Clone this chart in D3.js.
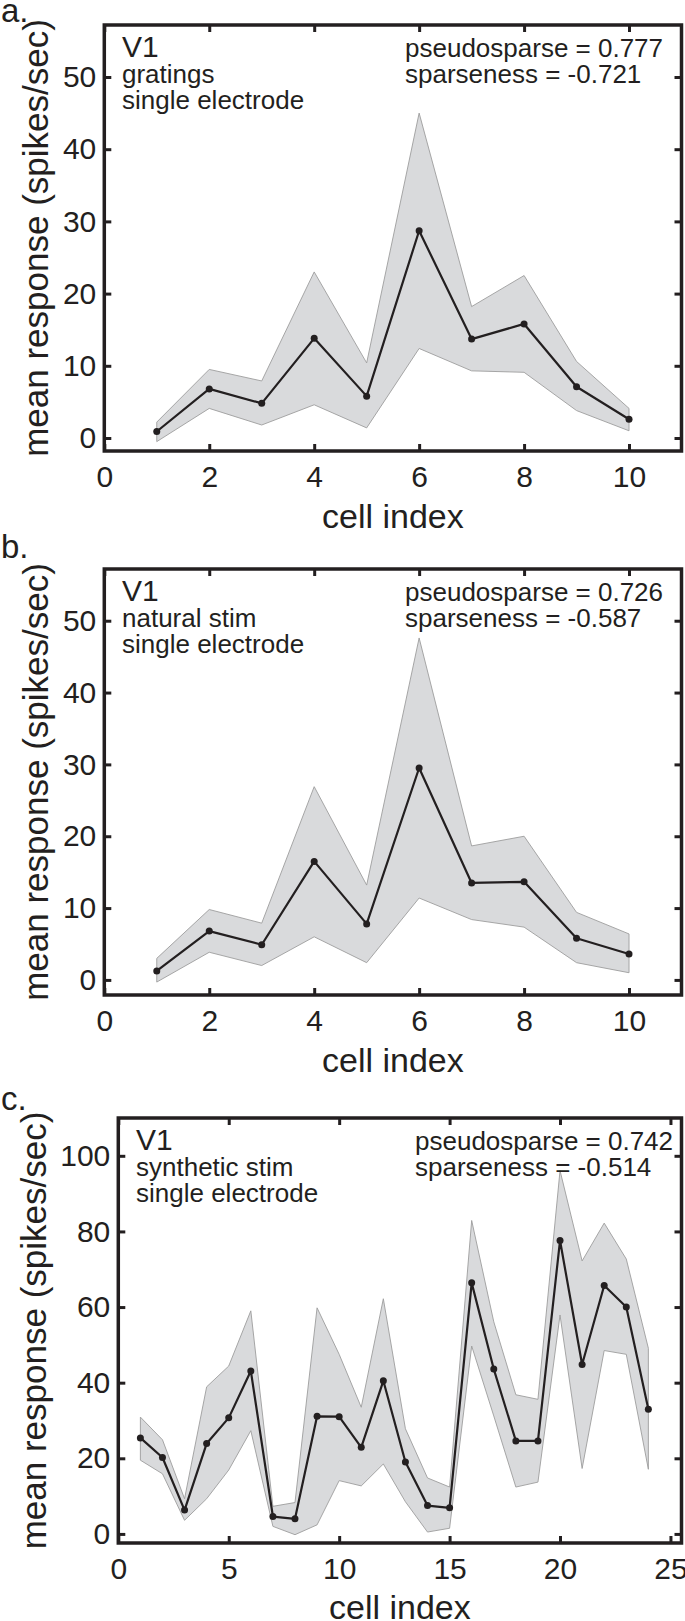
<!DOCTYPE html>
<html>
<head>
<meta charset="utf-8">
<script src="https://cdn.jsdelivr.net/npm/d3@7"></script>
<style>
  html, body { margin: 0; padding: 0; background: #fff; }
  svg { display: block; }
  text { font-family: "Liberation Sans", Arial, Helvetica, sans-serif; fill: #231f20; }
</style>
</head>
<body>
<svg id="chart" width="685" height="1621"></svg>
<script>
// ---------- data ----------
const cellsA = [1, 2, 3, 4, 5, 6, 7, 8, 9, 10];
const meanA  = [0.9, 6.8, 4.8, 13.8, 5.8, 28.7, 13.7, 15.8, 7.1, 2.6];
const upperA = [2.2, 9.5, 7.9, 23.0, 10.4, 45.0, 18.2, 22.5, 10.6, 4.1];
const lowerA = [-0.5, 4.1, 1.8, 4.6, 1.4, 12.4, 9.3, 9.1, 3.8, 1.0];

const cellsB = [1, 2, 3, 4, 5, 6, 7, 8, 9, 10];
const meanB  = [1.25, 6.8, 4.9, 16.5, 7.8, 29.5, 13.5, 13.65, 5.8, 3.6];
const upperB = [3.0, 9.8, 7.9, 26.9, 13.2, 47.6, 18.65, 20.0, 9.4, 6.4];
const lowerB = [-0.3, 3.85, 2.0, 6.0, 2.4, 11.4, 8.4, 7.35, 2.4, 1.0];

const cellsC = [1, 2, 3, 4, 5, 6, 7, 8, 9, 10, 11, 12, 13, 14, 15, 16, 17, 18, 19, 20, 21, 22, 23, 24];
const meanC  = [25.4, 20.2, 6.3, 23.9, 30.7, 43.1, 4.6, 4.0, 31.1, 31.0, 22.9, 40.5, 19.0, 7.5, 6.9, 66.4, 43.6, 24.6, 24.6, 77.6, 44.8, 65.7, 60.0, 33.0];
const upperC = [30.9, 24.9, 9.3, 38.9, 44.4, 59.0, 7.3, 8.3, 59.8, 47.5, 33.5, 62.2, 27.8, 14.8, 12.4, 82.9, 56.1, 36.8, 35.6, 96.1, 72.2, 82.2, 72.7, 49.1];
const lowerC = [19.5, 15.9, 3.6, 9.3, 16.9, 27.3, 2.0, -0.2, 2.4, 14.1, 12.7, 18.5, 8.5, 0.5, 1.5, 49.7, 31.2, 12.4, 13.7, 57.9, 17.3, 48.5, 47.5, 17.1];

const xTicks10 = [0, 2, 4, 6, 8, 10];
const yTicks50 = [0, 10, 20, 30, 40, 50];
const xTicks25 = [0, 5, 10, 15, 20, 25];
const yTicks100 = [0, 20, 40, 60, 80, 100];

const panelLetters = ["a.", "b.", "c."];
const stimLabels = ["gratings", "natural stim", "synthetic stim"];
const pseudoLabels = ["pseudosparse = 0.777", "pseudosparse = 0.726", "pseudosparse = 0.742"];
const sparseLabels = ["sparseness = -0.721", "sparseness = -0.587", "sparseness = -0.514"];
const areaLabel = "V1";
const electrodeLabel = "single electrode";
const xAxisTitle = "cell index";
const yAxisTitle = "mean response (spikes/sec)";

// ---------- layout ----------
const panels = [
  { cells: cellsA, mean: meanA, upper: upperA, lower: lowerA,
    top: 25, bottom: 451, left: 104.3, right: 681.5,
    xDomain: [0, 11], yDomain: [-1.8, 57.2], xTicks: xTicks10, yTicks: yTicks50,
    letterY: 22, yTitleX: 48, textX: 122, statX: 405 },
  { cells: cellsB, mean: meanB, upper: upperB, lower: lowerB,
    top: 569, bottom: 995, left: 104.3, right: 681.5,
    xDomain: [0, 11], yDomain: [-2.1, 57.2], xTicks: xTicks10, yTicks: yTicks50,
    letterY: 558, yTitleX: 48, textX: 122, statX: 405 },
  { cells: cellsC, mean: meanC, upper: upperC, lower: lowerC,
    top: 1118, bottom: 1543, left: 118.3, right: 681.5,
    xDomain: [0, 25.5], yDomain: [-2.4, 110], xTicks: xTicks25, yTicks: yTicks100,
    letterY: 1110, yTitleX: 46, textX: 136, statX: 415 }
];

const svg = d3.select("#chart");
const ink = "#231f20";

panels.forEach((p, i) => {
  const x = d3.scaleLinear().domain(p.xDomain).range([p.left, p.right]);
  const y = d3.scaleLinear().domain(p.yDomain).range([p.bottom, p.top]);
  const g = svg.append("g");

  // band
  const area = d3.area()
    .x((d, k) => x(p.cells[k]))
    .y0((d, k) => y(p.lower[k]))
    .y1((d, k) => y(p.upper[k]));
  g.append("path")
    .attr("d", area(p.cells))
    .attr("fill", "#d9dadc")
    .attr("stroke", "#9d9d9d")
    .attr("stroke-width", 0.9);

  // mean line
  const line = d3.line()
    .x((d, k) => x(p.cells[k]))
    .y((d, k) => y(p.mean[k]));
  g.append("path")
    .attr("d", line(p.cells))
    .attr("fill", "none")
    .attr("stroke", ink)
    .attr("stroke-width", 2.2)
    .attr("stroke-linejoin", "round");

  g.selectAll("circle.pt").data(p.cells).enter().append("circle")
    .attr("class", "pt")
    .attr("cx", (d, k) => x(p.cells[k]))
    .attr("cy", (d, k) => y(p.mean[k]))
    .attr("r", 3.5)
    .attr("fill", ink);

  // axes (ticks pointing inward)
  const tickLen = 7;
  const styleAxis = sel => {
    sel.select(".domain").remove();
    sel.selectAll(".tick line").attr("stroke", ink).attr("stroke-width", 3);
    sel.selectAll(".tick text").attr("fill", ink)
      .style("font-size", "30px");
  };
  g.append("g").attr("transform", `translate(${p.left},0)`)
    .call(d3.axisLeft(y).tickValues(p.yTicks).tickSizeInner(-tickLen).tickSizeOuter(0).tickPadding(8).tickFormat(d3.format("d")))
    .call(styleAxis);
  g.append("g").attr("transform", `translate(${p.right},0)`)
    .call(d3.axisRight(y).tickValues(p.yTicks).tickSizeInner(-tickLen).tickSizeOuter(0).tickFormat(""))
    .call(styleAxis);
  g.append("g").attr("transform", `translate(0,${p.bottom})`)
    .call(d3.axisBottom(x).tickValues(p.xTicks).tickSizeInner(-tickLen).tickSizeOuter(0).tickPadding(15).tickFormat(d3.format("d")))
    .call(styleAxis);
  g.append("g").attr("transform", `translate(0,${p.top})`)
    .call(d3.axisTop(x).tickValues(p.xTicks).tickSizeInner(-tickLen).tickSizeOuter(0).tickFormat(""))
    .call(styleAxis);

  // frame
  g.append("rect")
    .attr("x", p.left).attr("y", p.top)
    .attr("width", p.right - p.left).attr("height", p.bottom - p.top)
    .attr("fill", "none").attr("stroke", ink).attr("stroke-width", 3.5);

  // titles
  g.append("text")
    .attr("x", (p.left + p.right) / 2).attr("y", Math.min(p.bottom + 77, 1619))
    .attr("text-anchor", "middle").style("font-size", "34px")
    .text(xAxisTitle);
  g.append("text")
    .attr("transform", `translate(${p.yTitleX},${(p.top + p.bottom) / 2}) rotate(-90)`)
    .attr("text-anchor", "middle").style("font-size", "35px")
    .text(yAxisTitle);
  g.append("text")
    .attr("x", 1).attr("y", p.letterY)
    .style("font-size", "33px")
    .text(panelLetters[i]);

  // in-plot annotations
  g.append("text").attr("x", p.textX).attr("y", p.top + 32)
    .style("font-size", "30px").text(areaLabel);
  g.append("text").attr("x", p.textX).attr("y", p.top + 58)
    .style("font-size", "26px").text(stimLabels[i]);
  g.append("text").attr("x", p.textX).attr("y", p.top + 84)
    .style("font-size", "26px").text(electrodeLabel);
  g.append("text").attr("x", p.statX).attr("y", p.top + 32)
    .style("font-size", "26px").text(pseudoLabels[i]);
  g.append("text").attr("x", p.statX).attr("y", p.top + 58)
    .style("font-size", "26px").text(sparseLabels[i]);
});
</script>
</body>
</html>
